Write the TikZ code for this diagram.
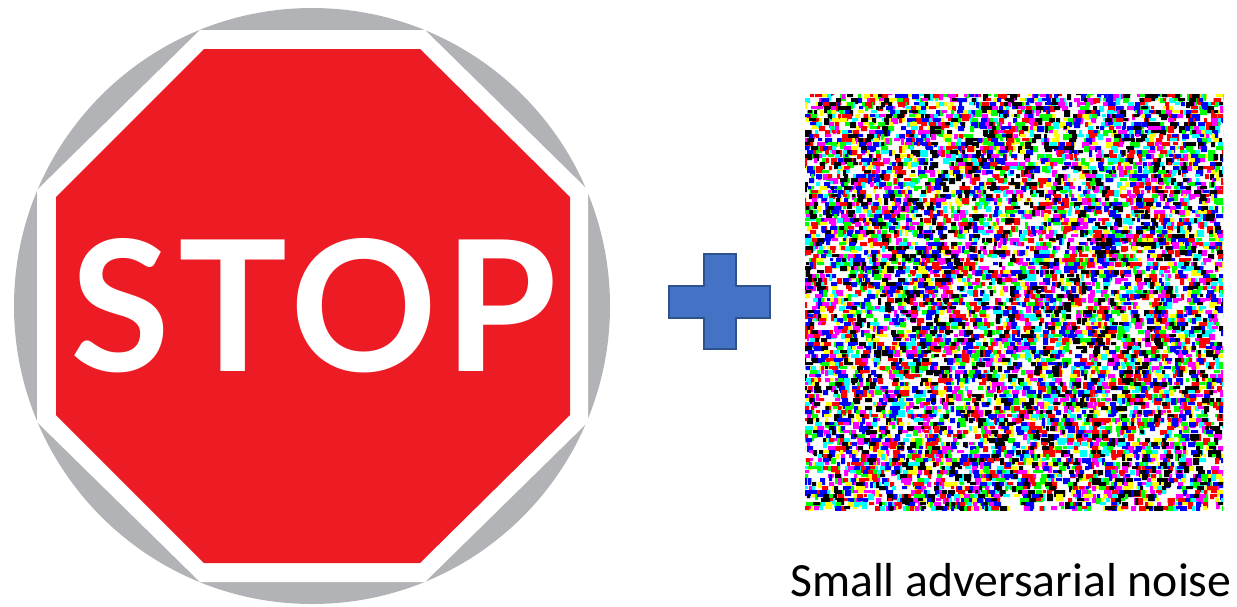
\documentclass[tikz,border=0pt]{standalone}
\usepackage{fontspec}
\setmainfont{Carlito}
\newfontfamily\signfont[LetterSpace=4]{Lato}
\definecolor{signgray}{HTML}{B1B3B6}
\definecolor{signred}{HTML}{ED1C24}
\definecolor{plusfill}{HTML}{4472C4}
\definecolor{plusline}{HTML}{2F528F}
\definecolor{n0}{HTML}{FFFF00}
\definecolor{n1}{HTML}{00FFFF}
\definecolor{n2}{HTML}{00FF00}
\definecolor{n3}{HTML}{FF00FF}
\definecolor{n4}{HTML}{FF0000}
\definecolor{n5}{HTML}{0000FF}
\definecolor{n6}{HTML}{000000}
\begin{document}
\begin{tikzpicture}[x=1pt,y=-1pt,
    signtext/.style={text=white,inner sep=0pt,font=\signfont\bfseries\fontsize{182}{182}\selectfont},
    caption/.style={text=black,inner sep=0pt,font=\fontsize{47.7}{47.7}\selectfont}]
    \useasboundingbox (0,0) rectangle (1237,606);
    \fill[signgray] (312,306) circle (298);
    \fill[white] (200,30) -- (425,30) -- (588,190) -- (588,422) -- (425,582) -- (200,582) -- (37,422) -- (37,190) -- cycle;
    \fill[signred] (204,49) -- (420,49) -- (570,197) -- (570,415) -- (420,563) -- (204,563) -- (56,415) -- (56,197) -- cycle;
    \node[signtext] (stoptext) at (314,306) {STOP};
    \draw[fill=plusfill,draw=plusline,line width=2.5pt] (704,254) -- (736,254) -- (736,286) -- (770,286) -- (770,318) -- (736,318) -- (736,349) -- (704,349) -- (704,318) -- (669,318) -- (669,286) -- (704,286) -- cycle;
    \begin{scope}
      \clip (805,94) rectangle (1223,510);
      \pgfmathsetseed{4242}
      \foreach \row in {0,...,104} {
        \foreach \tone in {0,...,6} {
          \fill[n\tone] \foreach \k in {1,...,13} {
            ({801+random(0,422)},{90+4*\row}) rectangle +({random(3,7)},{random(3,7)})
          };
        }
      }
    \end{scope}
    \node[caption,anchor=base west] (noiselabel) at (790,596.5) {Small adversarial noise};
\end{tikzpicture}
\end{document}
